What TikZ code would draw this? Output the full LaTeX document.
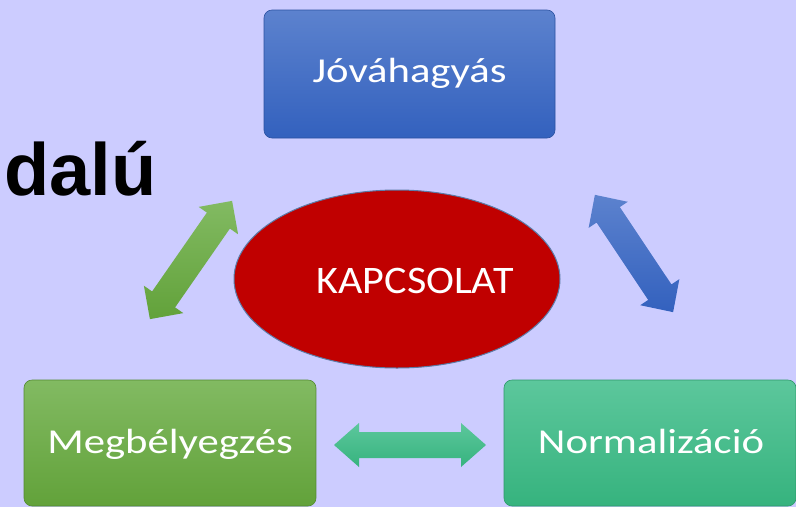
\documentclass[tikz,border=0pt]{standalone}
\usepackage{fontspec}
\usetikzlibrary{shapes.geometric}
\newfontfamily\boxfont[FakeStretch=1.22]{Carlito}
\newfontfamily\ellfont[FakeStretch=1.08]{Carlito}
\newfontfamily\bigfont{Liberation Sans}
\definecolor{bgc}{HTML}{CCCCFF}
\definecolor{bluetop}{HTML}{5C82CE}
\definecolor{bluebot}{HTML}{3361BE}
\definecolor{greentop}{HTML}{82BA62}
\definecolor{greenbot}{HTML}{62A23A}
\definecolor{tealtop}{HTML}{5CC79C}
\definecolor{tealbot}{HTML}{36B37E}
\definecolor{ellred}{HTML}{C00000}
\definecolor{elledge}{HTML}{5B7CA8}
\newcommand\DblArrow[7]{%
  \begin{scope}[shift={#1}, rotate=#2]
    \shade[#7] (-#3,0) -- ({-#3+#4},#5) -- ({-#3+#4},#6) -- ({#3-#4},#6) -- ({#3-#4},#5)
      -- (#3,0) -- ({#3-#4},-#5) -- ({#3-#4},-#6) -- ({-#3+#4},-#6) -- ({-#3+#4},-#5) -- cycle;
  \end{scope}}
\begin{document}
\begin{tikzpicture}[x=1pt,y=-1pt,
  boxstyle/.style={rectangle, rounded corners=8pt, inner sep=0pt, draw=#1, line width=0.6pt},
  lbl/.style={text=white, inner sep=0pt, anchor=base, font=\boxfont\fontsize{35}{40}\selectfont},
  ellstyle/.style={ellipse, fill=ellred, draw=elledge, line width=1pt, inner sep=0pt,
    minimum width=326pt, minimum height=178pt}]
\useasboundingbox (0,0) rectangle (796,507);
\clip (0,0) rectangle (796,507);
\fill[bgc] (0,0) rectangle (796,507);

% boxes
\node[boxstyle=bluebot!85!black, top color=bluetop, bottom color=bluebot,
  minimum width=291pt, minimum height=128pt] (jova) at (409.5,74) {};
\node[lbl] (jovat) at (409.5,82) {Jóváhagyás};

\node[boxstyle=greenbot!85!black, top color=greentop, bottom color=greenbot,
  minimum width=292pt, minimum height=126pt] (megb) at (170,443) {};
\node[lbl] (megbt) at (170,453) {Megbélyegzés};

\node[boxstyle=tealbot!85!black, top color=tealtop, bottom color=tealbot,
  minimum width=292pt, minimum height=126pt] (norm) at (650,443) {};
\node[lbl] (normt) at (651,453) {Normalizáció};

% ellipse
\node[ellstyle] (kapcs) at (397,279) {};
\node[text=white, inner sep=0pt, anchor=base, font=\ellfont\fontsize{39}{44}\selectfont] (kapcst) at (415,293) {KAPCSOLAT};

% arrows
\DblArrow{(191,260)}{55.2}{72}{24}{24}{14}{top color=greentop, bottom color=greenbot}
\DblArrow{(634,253.5)}{-56.3}{70.5}{24}{23.5}{14}{top color=bluetop, bottom color=bluebot}
\DblArrow{(410,445)}{0}{76}{25}{22}{13}{top color=tealtop, bottom color=tealbot}

% big text
\node[inner sep=0pt, anchor=base west, font=\bigfont\bfseries\fontsize{74}{80}\selectfont] (dalu) at (4,195) {dalú};
\end{tikzpicture}
\end{document}
